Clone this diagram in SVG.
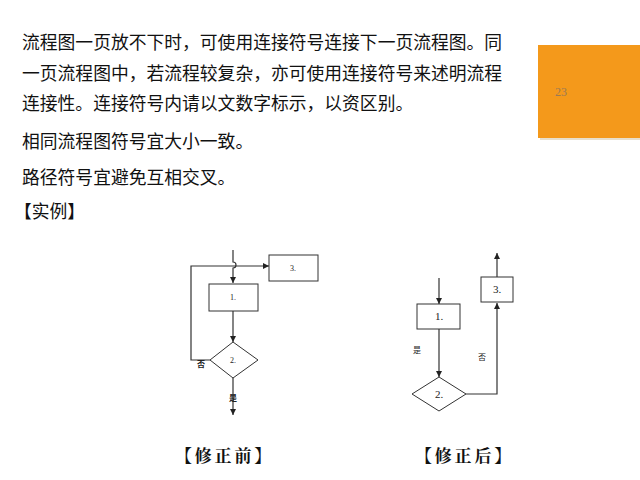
<svg xmlns="http://www.w3.org/2000/svg" width="640" height="480" viewBox="0 0 640 480">
<defs>
<style>
.body{font-family:"Microsoft YaHei","Noto Sans CJK SC",sans-serif;font-size:17.8px;fill:#111}
.cap{font-family:"Noto Serif CJK SC","Noto Sans CJK SC",serif;font-size:17px;font-weight:bold;fill:#111;letter-spacing:2.8px}
.shape{fill:#fff;stroke:#333;stroke-width:1}
.ln{fill:none;stroke:#333;stroke-width:1.2}
.lbl{font-family:"Liberation Serif","Noto Sans CJK SC",serif;font-size:8px;fill:#222;text-anchor:middle}
.lbl2{font-family:"Liberation Serif","Noto Sans CJK SC",serif;font-size:11px;fill:#222;text-anchor:middle}
.sm{font-family:"Noto Sans CJK SC",sans-serif;font-size:8px;fill:#222;text-anchor:middle}
</style>
<marker id="ah" viewBox="0 0 10 10" refX="10" refY="5" markerWidth="6" markerHeight="6" orient="auto" markerUnits="userSpaceOnUse">
<path d="M0,0 L10,5 L0,10 z" fill="#222"/>
</marker>
</defs>
<rect width="640" height="480" fill="#fff"/>
<g id="badge">
<rect x="540" y="47" width="100" height="93" fill="#d8c9a8" opacity="0.6"/>
<rect x="538" y="45" width="102" height="93" fill="#F4991B"/>
<text x="555" y="96" font-family="Liberation Serif,serif" font-size="12" fill="#9a7a55">23</text>
</g>
<g id="text">
<text class="body" x="22" y="49">流程图一页放不下时，可使用连接符号连接下一页流程图。同</text>
<text class="body" x="22" y="80">一页流程图中，若流程较复杂，亦可使用连接符号来述明流程</text>
<text class="body" x="22" y="110">连接性。连接符号内请以文数字标示，以资区别。</text>
<text class="body" x="22" y="148">相同流程图符号宜大小一致。</text>
<text class="body" x="22" y="184">路径符号宜避免互相交叉。</text>
<text class="body" x="14" y="218">【实例】</text>
</g>
<g id="connectors">
<path class="ln" d="M233,250 L233,262 A3,3 0 0 1 233,268 L233,283" marker-end="url(#ah)"/>
<path class="ln" d="M210,360 L191,360 L191,266 L269,266" marker-end="url(#ah)"/>
<path class="ln" d="M233,311 L233,342" marker-end="url(#ah)"/>
<path class="ln" d="M233,378 L233,415" marker-end="url(#ah)"/>
<path class="ln" d="M439,278 L439,304" marker-end="url(#ah)"/>
<path class="ln" d="M439,329 L439,377" marker-end="url(#ah)"/>
<path class="ln" d="M466,394 L497,394 L497,303" marker-end="url(#ah)"/>
<path class="ln" d="M497,277 L497,253" marker-end="url(#ah)"/>
</g>
<g id="L1"><rect class="shape" x="209" y="284" width="49" height="27"/><text class="lbl" x="233" y="300">1.</text></g>
<g id="L2"><polygon class="shape" points="233,342 258,360 233,378 210,360"/><text class="lbl" x="233" y="363">2.</text></g>
<g id="L3"><rect class="shape" x="269" y="255" width="49" height="26"/><text class="lbl" x="293" y="271">3.</text></g>
<g id="Llabels"><text class="sm" x="201" y="367" font-weight="bold">否</text><text class="sm" x="233" y="401" font-weight="bold">是</text></g>
<g id="R1"><rect class="shape" x="417" y="304" width="43" height="25"/><text class="lbl2" x="439" y="320">1.</text></g>
<g id="R2"><polygon class="shape" points="439,377 466,394 439,411 412,394"/><text class="lbl2" x="439" y="398">2.</text></g>
<g id="R3"><rect class="shape" x="481" y="277" width="32" height="25"/><text class="lbl2" x="497" y="293">3.</text></g>
<g id="Rlabels"><text class="sm" x="417" y="353">是</text><text class="sm" x="482" y="360">否</text></g>
<g id="captions">
<text class="cap" x="175" y="462">【修正前】</text>
<text class="cap" x="415" y="462">【修正后】</text>
</g>
</svg>
